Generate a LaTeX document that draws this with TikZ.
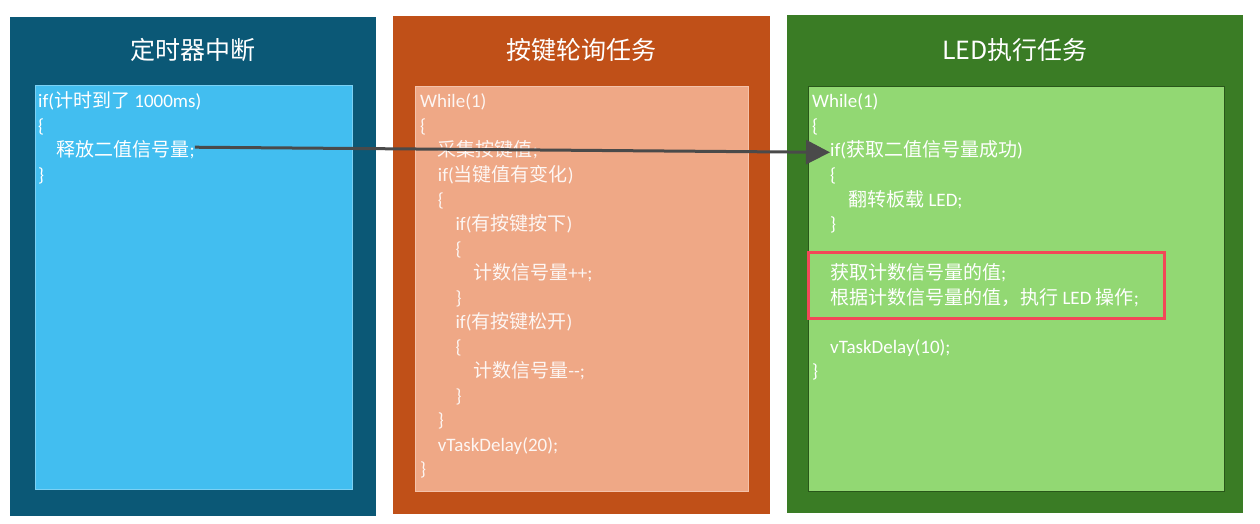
\documentclass[tikz,border=0pt]{standalone}
\usepackage{fontspec}
\setmainfont{Carlito}
\newfontfamily\cjk{Noto Sans CJK SC}
\newcommand{\zh}[1]{{\cjk #1}}
\usetikzlibrary{arrows.meta}

\definecolor{timerdark}{HTML}{0B5876}
\definecolor{timerlight}{HTML}{42BEF0}
\definecolor{keydark}{HTML}{C05018}
\definecolor{keylight}{HTML}{EFA886}
\definecolor{leddark}{HTML}{3A7C25}
\definecolor{ledlight}{HTML}{92D873}
\definecolor{markred}{HTML}{F24858}
\definecolor{arrowgray}{HTML}{4A4A4A}

\tikzset{
  title/.style={text=white,font=\cjk\fontsize{25}{30}\selectfont},
  code/.style={anchor=base west,inner sep=0pt,text=white,font=\fontsize{19}{19}\selectfont},
  sig/.style={arrowgray,line width=3pt,-{Triangle[length=24pt,width=24pt]}}
}

\begin{document}
\begin{tikzpicture}[x=1pt,y=-1pt]
\useasboundingbox (0,0) rectangle (1260,524);

% panels
\fill[timerdark] (10,17) rectangle (376,516);
\filldraw[fill=timerlight,draw=timerlight!70!white,line width=0.8pt] (35,85) rectangle (352,489);
\fill[keydark] (393,16) rectangle (770,514);
\filldraw[fill=keylight,draw=keylight!70!white,line width=0.8pt] (415,86) rectangle (748,491);
\fill[leddark] (787,15) rectangle (1243,513);
\filldraw[fill=ledlight,draw=leddark!70!black,line width=0.8pt] (808,86) rectangle (1224,491);

% titles
\node[title] (timer-title) at (193,50) {定时器中断};
\node[title] (key-title) at (581,50) {按键轮询任务};
\node[title] (led-title) at (1015,50) {LED执行任务};

% timer ISR
\foreach \n/\l/\t in {0/0/{if(\zh{计时到了} 1000ms)}, 1/0/\{, 2/1/{\zh{释放二值信号量};}, 3/0/\}}
  \node[code] (timer-\n) at (38+18.5*\l,108+24.5*\n) {\t};

% key task
\foreach \n/\l/\t in {0/0/While(1), 1/0/\{, 2/1/{\zh{采集按键值};}, 3/1/{if(\zh{当键值有变化})},
    4/1/\{, 5/2/{if(\zh{有按键按下})}, 6/2/\{, 7/3/{\zh{计数信号量}++;}, 8/2/\},
    9/2/{if(\zh{有按键松开})}, 10/2/\{, 11/3/{\zh{计数信号量}-{}-;}, 12/2/\}, 13/1/\},
    14/1/vTaskDelay(20);, 15/0/\}}
  \node[code,text=white!90!keylight] (key-\n) at (420+17.7*\l,108+24.5*\n) {\t};

% led task
\foreach \n/\l/\t in {0/0/While(1), 1/0/\{, 2/1/{if(\zh{获取二值信号量成功})}, 3/1/\{,
    4/2/{\zh{翻转板载} LED;}, 5/1/\}, 7/1/{\zh{获取计数信号量的值};},
    8/1/{\zh{根据计数信号量的值，执行} LED \zh{操作};}, 10/1/vTaskDelay(10);, 11/0/\}}
  \node[code] (led-\n) at (812+18*\l,108+24.5*\n) {\t};

\draw[markred,line width=3pt] (808,252) rectangle (1164,318);

% semaphore give -> take
\draw[sig] ([yshift=3pt]timer-2.east) -- ([yshift=-2pt]led-2.west);
\end{tikzpicture}
\end{document}
